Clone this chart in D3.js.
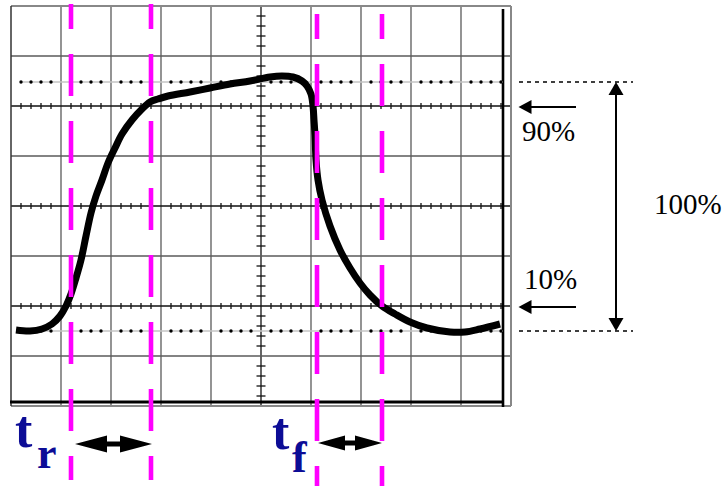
<!DOCTYPE html>
<html>
<head>
<meta charset="utf-8">
<script src="https://cdn.jsdelivr.net/npm/d3@7"></script>
<style>
    body { margin: 0; background: #fff; }
    svg { display: block; }
</style>
</head>
<body>
<svg width="724" height="486"></svg>
<script>
// Data: screen divisions (x: 0..10, y: -4..4)
const curveX = [0.10, 0.38, 0.62, 0.82, 0.98, 1.10, 1.20, 1.30, 1.40, 1.50, 1.60, 1.70, 1.82, 1.94,
    2.08, 2.22, 2.42, 2.62, 2.78, 2.94, 3.14, 3.58, 3.98, 4.38, 4.78, 5.18, 5.42, 5.64, 5.82, 5.92,
    6.00, 6.04, 6.06, 6.08, 6.10, 6.14, 6.22, 6.38, 6.58, 6.78, 6.98, 7.18, 7.42, 7.68, 7.98, 8.32,
    8.78, 9.08, 9.38, 9.78];
const curveY = [-2.48, -2.50, -2.46, -2.36, -2.20, -2.00, -1.76, -1.44, -1.08, -0.60, -0.14, 0.20, 0.52, 0.86,
    1.16, 1.44, 1.72, 1.94, 2.08, 2.14, 2.20, 2.28, 2.36, 2.44, 2.50, 2.58, 2.60, 2.58, 2.50, 2.40,
    2.24, 2.00, 1.72, 1.42, 0.92, 0.52, 0.12, -0.40, -0.88, -1.24, -1.54, -1.78, -2.00, -2.16, -2.32, -2.44,
    -2.52, -2.52, -2.46, -2.36];

const cursorX = [1.2, 2.8, 6.12, 7.42];
const levelTop = 2.48;      // 100%
const levelBottom = -2.5;   // 0%
const level90 = 2;
const level10 = -2;
const levelLabels = ['90%', '10%', '100%'];
const timeLabels = [{ main: 't', sub: 'r' }, { main: 't', sub: 'f' }];

const svg = d3.select('svg');
const serif = "'Liberation Serif', 'Times New Roman', serif";

const area = { left: 11, top: 6, cell: 50 };

const scX = d3.scaleLinear().domain([0, 10]).range([area.left, area.left + 10 * area.cell]);
const scY = d3.scaleLinear().domain([-4, 4]).range([area.top + 8 * area.cell, area.top]);

function drawGrid() {
    const g = svg.append('g');

    // inner grid
    g.selectAll('.vline')
        .data(d3.range(1, 10)).enter()
        .append('line')
        .attr('x1', d => scX(d)).attr('x2', d => scX(d))
        .attr('y1', scY(4)).attr('y2', scY(-4))
        .attr('stroke', d => d === 5 ? '#111' : '#5a5a5a')
        .attr('stroke-width', 1.3);

    g.selectAll('.hline')
        .data(d3.range(-3, 4)).enter()
        .append('line')
        .attr('x1', scX(0)).attr('x2', scX(10))
        .attr('y1', d => scY(d)).attr('y2', d => scY(d))
        .attr('stroke', d => (d === 0 || d === 2 || d === -2) ? '#111' : '#5a5a5a')
        .attr('stroke-width', 1.3);

    // outer border
    g.append('line').attr('x1', scX(0)).attr('x2', scX(10)).attr('y1', scY(4)).attr('y2', scY(4))
        .attr('stroke', '#888').attr('stroke-width', 2);
    g.append('line').attr('x1', scX(10)).attr('x2', scX(10)).attr('y1', scY(4)).attr('y2', scY(-4))
        .attr('stroke', '#888').attr('stroke-width', 2);
    g.append('line').attr('x1', scX(0)).attr('x2', scX(10)).attr('y1', scY(-4)).attr('y2', scY(-4))
        .attr('stroke', '#888').attr('stroke-width', 2);
    g.append('line').attr('x1', scX(0)).attr('x2', scX(0)).attr('y1', scY(4)).attr('y2', scY(-4))
        .attr('stroke', '#333').attr('stroke-width', 1.5);

    // minor ticks
    const minor = d3.range(1, 50).filter(i => i % 5 !== 0).map(i => i / 5);
    [2, 0, -2].forEach(lv => {
        g.selectAll(null)
            .data(minor).enter()
            .append('line')
            .attr('x1', d => scX(d)).attr('x2', d => scX(d))
            .attr('y1', scY(lv) - 3).attr('y2', scY(lv) + 3)
            .attr('stroke', '#111').attr('stroke-width', 1.3);
    });
    const minorY = d3.range(-19, 20).filter(i => i % 5 !== 0).map(i => i / 5);
    g.selectAll(null)
        .data(minorY).enter()
        .append('line')
        .attr('x1', scX(5) - 4.5).attr('x2', scX(5) + 4.5)
        .attr('y1', d => scY(d)).attr('y2', d => scY(d))
        .attr('stroke', '#111').attr('stroke-width', 1.3);

    // thick frame lines
    g.append('line').attr('x1', scX(9.84)).attr('x2', scX(9.84)).attr('y1', scY(3.94)).attr('y2', scY(-4.02))
        .attr('stroke', '#000').attr('stroke-width', 2.6);
    g.append('line').attr('x1', scX(-0.02)).attr('x2', scX(9.84)).attr('y1', scY(-3.92)).attr('y2', scY(-3.92))
        .attr('stroke', '#000').attr('stroke-width', 3);
}

function drawLevels() {
    const minor = d3.range(1, 50).filter(i => i % 5 !== 0).map(i => i / 5);
    [levelTop, levelBottom].forEach(lv => {
        svg.append('line')
            .attr('x1', scX(0.2)).attr('x2', scX(9.84))
            .attr('y1', scY(lv)).attr('y2', scY(lv))
            .attr('stroke', '#c4c4c4').attr('stroke-width', 1.5);
        svg.selectAll(null)
            .data(minor).enter()
            .append('circle')
            .attr('cx', d => scX(d)).attr('cy', scY(lv))
            .attr('r', 1.7).attr('fill', '#000');
        svg.append('line')
            .attr('x1', scX(10.16)).attr('x2', scX(12.44))
            .attr('y1', scY(lv)).attr('y2', scY(lv))
            .attr('stroke', '#000').attr('stroke-width', 1.3)
            .attr('stroke-dasharray', '4,4');
    });
}

function drawCurve() {
    const pts = curveX.map((x, i) => [scX(x), scY(curveY[i])]);
    const lineGen = d3.line().curve(d3.curveCatmullRom.alpha(0.5));
    svg.append('path')
        .attr('d', lineGen(pts))
        .attr('fill', 'none')
        .attr('stroke', '#000')
        .attr('stroke-width', 7);
}

function drawCursors() {
    svg.selectAll('.cursor')
        .data(cursorX).enter()
        .append('line')
        .attr('class', 'cursor')
        .attr('x1', d => scX(d)).attr('x2', d => scX(d))
        .attr('y1', (d, i) => i < 2 ? 4 : 14)
        .attr('y2', (d, i) => i < 2 ? 480 : 486)
        .attr('stroke', '#ff00ff')
        .attr('stroke-width', 4.6)
        .attr('stroke-dasharray', '42,25')
        .attr('stroke-dashoffset', 17);
}

function doubleArrowH(x0, x1, y, L, h, s) {
    return `M${x0},${y} L${x0 + L},${y - h} L${x0 + L},${y - s} L${x1 - L},${y - s} L${x1 - L},${y - h} ` +
        `L${x1},${y} L${x1 - L},${y + h} L${x1 - L},${y + s} L${x0 + L},${y + s} L${x0 + L},${y + h} Z`;
}

function drawAnnotations() {
    // vertical 100% arrow
    const ax = scX(12.1);
    const yTop = scY(levelTop), yBot = scY(levelBottom);
    svg.append('line').attr('x1', ax).attr('x2', ax).attr('y1', yTop + 10).attr('y2', yBot - 10)
        .attr('stroke', '#000').attr('stroke-width', 2);
    svg.append('path').attr('d', `M${ax},${yTop} L${ax - 7.5},${yTop + 13} L${ax + 7.5},${yTop + 13} Z`).attr('fill', '#000');
    svg.append('path').attr('d', `M${ax},${yBot} L${ax - 7.5},${yBot - 13} L${ax + 7.5},${yBot - 13} Z`).attr('fill', '#000');

    // 90% and 10% pointers
    [level90, level10].forEach(lv => {
        const y = scY(lv) + 1;
        const xt = scX(10.15), xe = scX(11.3);
        svg.append('line').attr('x1', xt + 10).attr('x2', xe).attr('y1', y).attr('y2', y)
            .attr('stroke', '#000').attr('stroke-width', 2);
        svg.append('path').attr('d', `M${xt},${y} L${xt + 13},${y - 7} L${xt + 13},${y + 7} Z`).attr('fill', '#000');
    });

    const labelPos = [[522, 141], [524, 289], [654, 214]];
    svg.selectAll('.lvl')
        .data(levelLabels).enter()
        .append('text')
        .attr('class', 'lvl')
        .attr('x', (d, i) => labelPos[i][0])
        .attr('y', (d, i) => labelPos[i][1])
        .style('font-family', serif)
        .attr('font-size', 29)
        .attr('fill', '#000')
        .text(d => d);

    // time arrows
    svg.append('path').attr('d', doubleArrowH(scX(cursorX[0]) + 4, scX(cursorX[1]) + 1, 444, 32, 8.5, 2.6)).attr('fill', '#000');
    svg.append('path').attr('d', doubleArrowH(scX(cursorX[2]) + 1, scX(cursorX[3]), 443, 27, 7.5, 2.4)).attr('fill', '#000');

    const tPos = [[15, 447, 37, 468], [272, 449, 292, 472]];
    timeLabels.forEach((t, i) => {
        const p = tPos[i];
        svg.append('text')
            .attr('x', p[0]).attr('y', p[1])
            .style('font-family', serif)
            .attr('font-weight', 'bold')
            .attr('font-size', 52)
            .attr('fill', '#0c0c96')
            .text(t.main);
        svg.append('text')
            .attr('x', p[2]).attr('y', p[3])
            .style('font-family', serif)
            .attr('font-weight', 'bold')
            .attr('font-size', 44)
            .attr('fill', '#0c0c96')
            .text(t.sub);
    });
}

drawGrid();
drawLevels();
drawCurve();
drawCursors();
drawAnnotations();
</script>
</body>
</html>
